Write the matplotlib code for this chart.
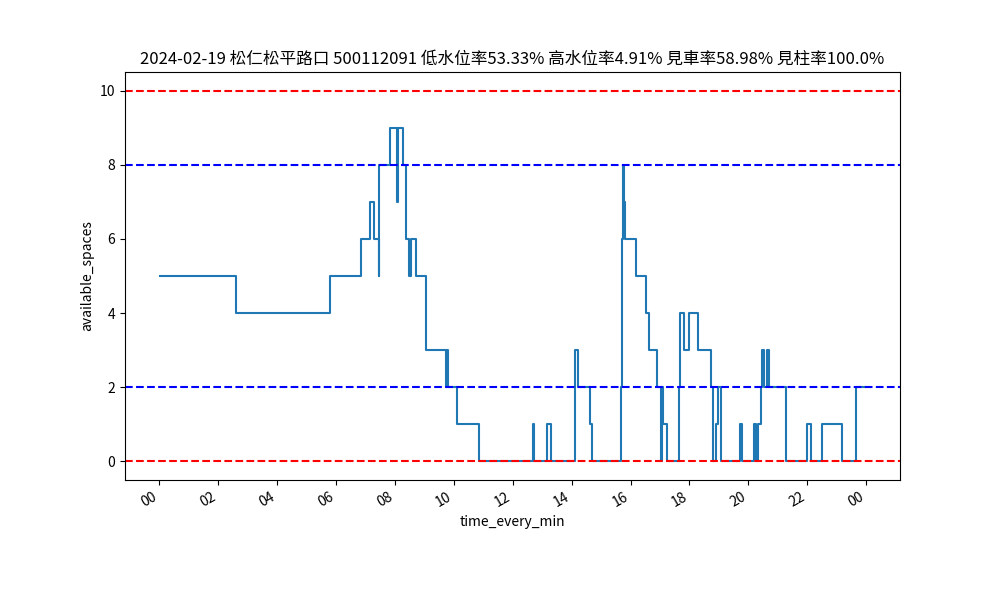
import matplotlib.pyplot as plt
import matplotlib.dates as mdates
import pandas as pd

plt.rcParams['font.family'] = ['Noto Sans CJK TC', 'DejaVu Sans']
plt.rcParams['axes.unicode_minus'] = False

day = '2024-02-19'
title = '2024-02-19 松仁松平路口 500112091 低水位率53.33% 高水位率4.91% 見車率58.98% 見柱率100.0%'

# moments where available_spaces changes
change_times = ['00:02', '02:37', '05:47', '06:51', '07:10', '07:18', '07:27', '07:28',
                '07:49', '08:04', '08:05', '08:06', '08:07', '08:16', '08:23', '08:28',
                '08:33', '08:43', '09:03', '09:44', '09:46', '09:49', '10:07', '10:52',
                '12:42', '12:44', '13:09', '13:18', '14:06', '14:12', '14:38', '14:42',
                '15:41', '15:42', '15:43', '15:44', '15:46', '15:48', '16:11', '16:31',
                '16:38', '16:54', '17:02', '17:04', '17:07', '17:15', '17:38', '17:40',
                '17:49', '17:59', '18:18', '18:44', '18:47', '18:55', '18:58', '19:04',
                '19:43', '19:47', '20:12', '20:15', '20:20', '20:25', '20:28', '20:32',
                '20:38', '20:42', '21:16', '21:59', '22:07', '22:29', '23:10', '23:39',
                '23:57']
spaces = [5, 4, 5, 6, 7, 6, 5, 8,
          9, 8, 7, 8, 9, 8, 6, 5,
          6, 5, 3, 2, 3, 2, 1, 0,
          1, 0, 1, 0, 3, 2, 1, 0,
          2, 4, 6, 8, 7, 6, 5, 4,
          3, 2, 0, 2, 1, 0, 2, 4,
          3, 4, 3, 2, 0, 1, 2, 0,
          1, 0, 1, 0, 1, 2, 3, 2,
          3, 2, 0, 1, 0, 1, 0, 2,
          2]

low_lines = [0, 10]   # red
high_lines = [2, 8]   # blue

t = pd.to_datetime([day + ' ' + s for s in change_times])

fig, ax = plt.subplots(figsize=(10, 6), dpi=100)
ax.plot(t, spaces, drawstyle='steps-post')
for v in low_lines:
    ax.axhline(v, color='r', linestyle='--')
for v in high_lines:
    ax.axhline(v, color='b', linestyle='--')

ax.xaxis.set_major_locator(mdates.HourLocator(interval=2))
ax.xaxis.set_major_formatter(mdates.DateFormatter('%H'))
ax.set_xlabel('time_every_min')
ax.set_ylabel('available_spaces')
ax.set_title(title)
fig.autofmt_xdate()

fig.savefig('out.png')
